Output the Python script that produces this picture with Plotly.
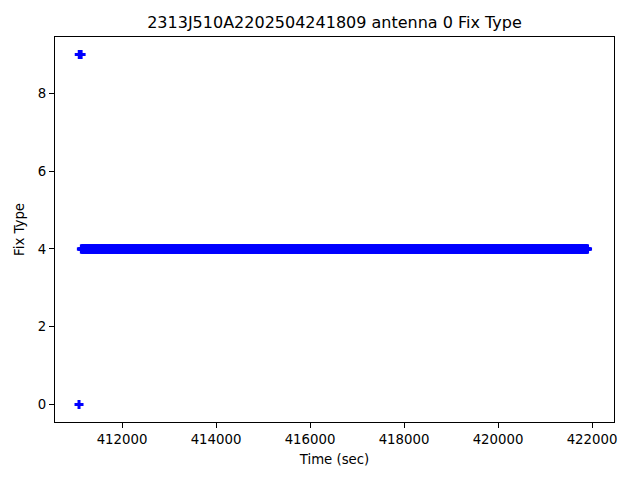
import numpy as np
import plotly.graph_objects as go

# Data (time in seconds, fix type)
fix0_times = [411085]
fix0_values = [0]
fix9_times = [411090, 411100, 411110, 411120, 411128]
fix9_values = [9, 9, 9, 9, 9]
# Continuous run of fix type 4, logged every sample
fix4_run_start = 411135
fix4_run_end = 421905
fix4_sample_step = 10
fix4_value = 4

fix4_times = np.arange(fix4_run_start, fix4_run_end + 1, fix4_sample_step)
fix4_values = np.full(fix4_times.shape, fix4_value)

times = list(fix0_times) + list(fix9_times) + list(fix4_times)
values = list(fix0_values) + list(fix9_values) + list(fix4_values)

x_ticks = [412000, 414000, 416000, 418000, 420000, 422000]
y_ticks = [0, 2, 4, 6, 8]

fig = go.Figure()
fig.add_trace(go.Scatter(
    x=times, y=values, mode="markers",
    marker=dict(symbol="cross", size=7.5, color="#0000ff", line=dict(width=0)),
    showlegend=False,
))

W, H = 632, 472
font = "DejaVu Sans, Liberation Sans, sans-serif"
fig.update_layout(
    width=W, height=H,
    margin=dict(l=47, r=26, t=29, b=58),
    paper_bgcolor="white", plot_bgcolor="white",
    font=dict(family=font, size=13.3, color="black"),
    title=dict(text="2313J510A2202504241809 antenna 0 Fix Type",
               x=0.5, xanchor="center", xref="paper",
               y=1 - 14 / H, yanchor="middle",
               font=dict(size=16, family=font, color="black")),
)
fig.update_xaxes(
    range=[410574, 422468], tickvals=x_ticks, ticktext=[str(v) for v in x_ticks],
    showline=True, linecolor="black", linewidth=1, mirror=True,
    ticks="outside", ticklen=5, tickcolor="black", showgrid=False, zeroline=False,
    title=dict(text="Time (sec)", font=dict(size=13.3), standoff=8),
)
fig.update_yaxes(
    range=[-0.45, 9.45], tickvals=y_ticks, ticktext=[str(v) for v in y_ticks],
    showline=True, linecolor="black", linewidth=1, mirror=True,
    ticks="outside", ticklen=5, tickcolor="black", showgrid=False, zeroline=False,
    title=dict(text="Fix Type", font=dict(size=13.3), standoff=10),
)

fig.write_html("out.html")
